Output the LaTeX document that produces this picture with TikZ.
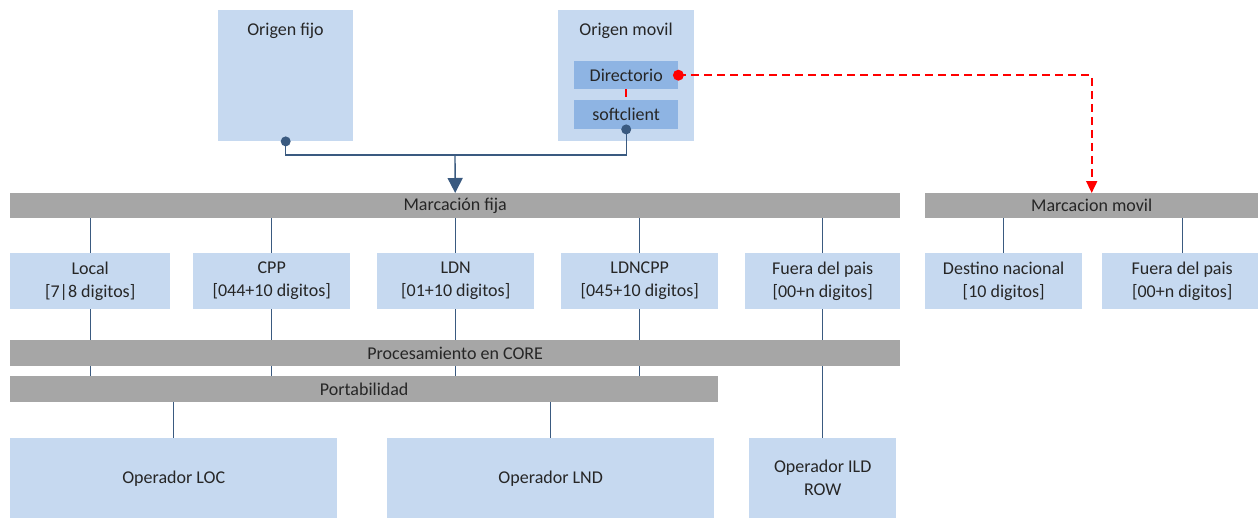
\documentclass[tikz,border=0pt]{standalone}
\usepackage{fontspec}
\setmainfont{Carlito}
\usetikzlibrary{arrows.meta}
\definecolor{boxblue}{HTML}{C6D9F0}
\definecolor{innerblue}{HTML}{8EB4E3}
\definecolor{bargray}{HTML}{A6A6A6}
\definecolor{linkblue}{HTML}{3A5A80}
\definecolor{txt}{HTML}{262626}
\begin{document}
\begin{tikzpicture}[x=1pt,y=-1pt,
  font=\fontsize{18}{23}\selectfont, text=txt,
  wh/.style 2 args={minimum width=#1pt, minimum height=#2pt},
  box/.style={fill=boxblue, draw=none, inner sep=0pt, align=center, anchor=north west},
  subbox/.style={fill=innerblue, draw=none, inner sep=0pt, align=center, anchor=north west},
  bar/.style={fill=bargray, draw=none, inner sep=0pt, align=center, anchor=north west},
  conn/.style={draw=linkblue, line width=1.4pt},
  reddash/.style={draw=red, line width=1.8pt, dash pattern=on 8pt off 5pt},
  bluedot/.style={fill=linkblue, draw=none, circle, inner sep=0pt, minimum size=10pt},
  reddot/.style={fill=red, draw=none, circle, inner sep=0pt, minimum size=11pt}]
\useasboundingbox (0,0) rectangle (1258,517);

% sources
\node[box, wh={135}{131}] (fijo) at (218,10) {};
\node (fijotxt) at (285.5,31) {Origen fijo};
\node[box, wh={136}{131}] (movil) at (558,10) {};
\node (moviltxt) at (626,31) {Origen movil};
\node[subbox, wh={104}{28}] (dir) at (574,61) {Directorio};
\node[subbox, wh={104}{29}] (sc) at (574,100) {softclient};

% dialling bars
\node[bar, wh={890}{25}] (mfija) at (10,193) {Marcación fija};
\node[bar, wh={333}{25}] (mmovil) at (925,193) {Marcacion movil};

% number formats
\node[box, wh={160}{56}] (local) at (10,253) {Local\\{}[7|8 digitos]};
\node[box, wh={157}{56}] (cpp) at (193,253) {CPP\\{}[044+10 digitos]};
\node[box, wh={157}{56}] (ldn) at (377,253) {LDN\\{}[01+10 digitos]};
\node[box, wh={157}{56}] (ldncpp) at (561,253) {LDNCPP\\{}[045+10 digitos]};
\node[box, wh={155}{56}] (fuera) at (745,253) {Fuera del pais\\{}[00+n digitos]};
\node[box, wh={157}{56}] (destino) at (925,253) {Destino nacional\\{}[10 digitos]};
\node[box, wh={160}{56}] (fuera2) at (1102,253) {Fuera del pais\\{}[00+n digitos]};

% processing layers
\node[bar, wh={890}{26}] (proc) at (10,340) {Procesamiento en CORE};
\node[bar, wh={708}{26}] (port) at (10,376) {Portabilidad};

% operators
\node[box, wh={327}{80}] (loc) at (10,438) {Operador LOC};
\node[box, wh={327}{80}] (lnd) at (387,438) {Operador LND};
\node[box, wh={147}{80}] (ild) at (749,438) {Operador ILD\\ROW};

% fixed origins to fixed dialling
\coordinate (j) at (455,155);
\draw[conn] (fijo.south) |- (j) -| (sc.south);
\draw[conn, -{Triangle[width=15pt,length=15pt]}] (j) -- (mfija.north);
\node[bluedot] (fdot) at (fijo.south) {};
\node[bluedot] (sdot) at (sc.south) {};

% mobile directory to mobile dialling
\draw[reddash] (dir.south) -- (sc.north);
\draw[reddash, -{Triangle[width=11pt,length=12pt]}] (dir.east) -| (mmovil.north);
\node[reddot] (rdot) at (dir.east) {};

% fixed dialling branches
\foreach \n in {local,cpp,ldn,ldncpp,fuera}{
  \draw[conn] (\n.north |- mfija.south) -- (\n.north);
  \draw[conn] (\n.south) -- (\n.south |- proc.north);
}
\foreach \n in {local,cpp,ldn,ldncpp}{
  \draw[conn] (\n.south |- proc.south) -- (\n.south |- port.north);
}
\foreach \n in {destino,fuera2}{
  \draw[conn] (\n.north |- mmovil.south) -- (\n.north);
}

% to operators
\draw[conn] (fuera.south |- proc.south) -- (ild.north);
\draw[conn] (loc.north |- port.south) -- (loc.north);
\draw[conn] (lnd.north |- port.south) -- (lnd.north);
\end{tikzpicture}
\end{document}
